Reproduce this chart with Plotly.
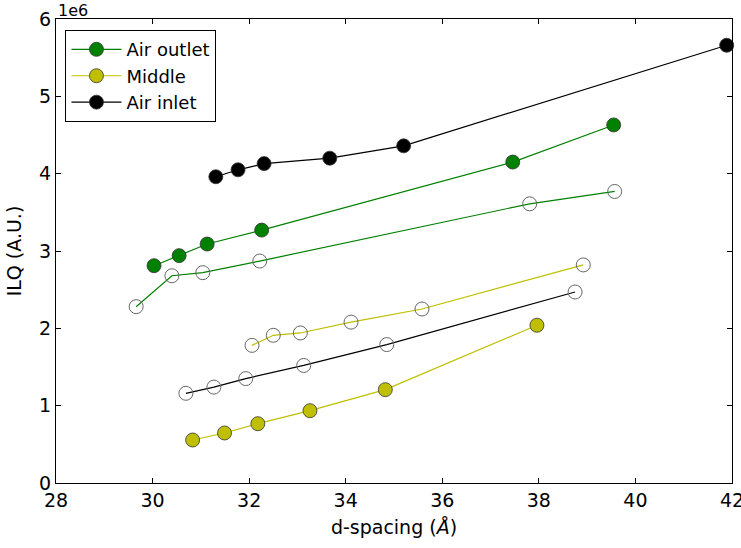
import plotly.graph_objects as go

# Air outlet (filled)
outlet_x = [30.03, 30.55, 31.13, 32.26, 37.46, 39.55]
outlet_y = [2.81e6, 2.94e6, 3.09e6, 3.27e6, 4.15e6, 4.63e6]
# Air outlet (open)
outlet2_x = [29.66, 30.40, 31.04, 32.22, 37.81, 39.57]
outlet2_y = [2.28e6, 2.68e6, 2.72e6, 2.87e6, 3.61e6, 3.77e6]
# Middle (filled)
middle_x = [30.83, 31.49, 32.18, 33.26, 34.82, 37.96]
middle_y = [0.556e6, 0.647e6, 0.767e6, 0.935e6, 1.207e6, 2.04e6]
# Middle (open)
middle2_x = [32.06, 32.50, 33.06, 34.11, 35.58, 38.92]
middle2_y = [1.78e6, 1.91e6, 1.94e6, 2.08e6, 2.25e6, 2.82e6]
# Air inlet (filled)
inlet_x = [31.31, 31.77, 32.31, 33.67, 35.20, 41.89]
inlet_y = [3.96e6, 4.05e6, 4.13e6, 4.20e6, 4.36e6, 5.66e6]
# Air inlet (open)
inlet2_x = [30.69, 31.27, 31.93, 33.13, 34.85, 38.75]
inlet2_y = [1.16e6, 1.24e6, 1.35e6, 1.52e6, 1.79e6, 2.47e6]

y_ticks = [0, 1e6, 2e6, 3e6, 4e6, 5e6, 6e6]
y_tick_labels = ["0", "1", "2", "3", "4", "5", "6"]
x_ticks = [28, 30, 32, 34, 36, 38, 40, 42]

GREEN = "#008000"
YELLOW = "#bfbf00"
BLACK = "#000000"

fig = go.Figure()

def filled(x, y, color, name):
    fig.add_trace(go.Scatter(
        x=x, y=y, mode="lines+markers", name=name,
        line=dict(color=color, width=1.2),
        marker=dict(size=14, color=color, line=dict(color="#333333", width=0.8)),
        cliponaxis=False,
    ))

def opened(x, y, color):
    fig.add_trace(go.Scatter(
        x=x, y=y, mode="lines+markers", showlegend=False,
        line=dict(color=color, width=1.2),
        marker=dict(size=14, color="rgba(0,0,0,0)", line=dict(color="#666666", width=1)),
        cliponaxis=False,
    ))

filled(outlet_x, outlet_y, GREEN, "Air outlet")
opened(outlet2_x, outlet2_y, GREEN)
filled(middle_x, middle_y, YELLOW, "Middle")
opened(middle2_x, middle2_y, YELLOW)
filled(inlet_x, inlet_y, BLACK, "Air inlet")
opened(inlet2_x, inlet2_y, BLACK)

axis_common = dict(
    showline=True, linecolor="black", linewidth=1, mirror="ticks",
    ticks="inside", ticklen=5, tickcolor="black", showgrid=False, zeroline=False,
    tickfont=dict(size=19, color="black"), automargin=False,
    ticklabeloverflow="allow",
)

fig.update_layout(
    width=741, height=548,
    margin=dict(l=56, r=9, t=19, b=65),
    paper_bgcolor="white", plot_bgcolor="white",
    font=dict(family="DejaVu Sans", size=18, color="black"),
    xaxis=dict(range=[28, 42], tickvals=x_ticks,
               title=dict(text="d-spacing (<i>Å</i>)", font=dict(size=19), standoff=10),
               **axis_common),
    yaxis=dict(range=[0, 6e6], tickvals=y_ticks, ticktext=y_tick_labels,
               title=dict(text="ILQ (A.U.)", font=dict(size=19), standoff=12),
               **axis_common),
    legend=dict(x=0.014, y=0.976, xanchor="left", yanchor="top",
                bordercolor="black", borderwidth=1, bgcolor="white",
                font=dict(size=18), itemwidth=50, tracegroupgap=0),
    showlegend=True,
    annotations=[dict(text="1e6", x=0, y=1, xref="paper", yref="paper",
                      xanchor="left", yanchor="bottom", showarrow=False,
                      font=dict(size=16), yshift=-3)],
)

fig.write_html("out.html",
               config={"displayModeBar": False},
               post_script="document.body.style.margin='0';document.body.style.overflow='hidden';")
